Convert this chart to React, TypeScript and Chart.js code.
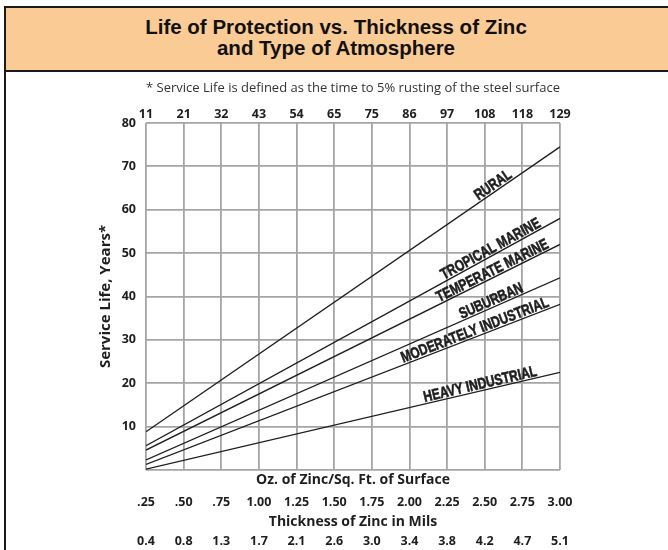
import React, { useEffect, useRef } from "react";
import { Chart, registerables } from "chart.js";

Chart.register(...registerables);

// ---- data ----
const OZ_MIN = 0.25;
const OZ_MAX = 3.0;
const OZ_STEP = 0.25;
const OZ_LABELS = [".25", ".50", ".75", "1.00", "1.25", "1.50", "1.75", "2.00", "2.25", "2.50", "2.75", "3.00"];
const GRAM_LABELS = ["11", "21", "32", "43", "54", "65", "75", "86", "97", "108", "118", "129"];
const MILS_LABELS = ["0.4", "0.8", "1.3", "1.7", "2.1", "2.6", "3.0", "3.4", "3.8", "4.2", "4.7", "5.1"];

const LINE_X = [0.25, 3.0];
const SERIES_NAMES = ["RURAL", "TROPICAL MARINE", "TEMPERATE MARINE", "SUBURBAN", "MODERATELY INDUSTRIAL", "HEAVY INDUSTRIAL"];
const RURAL = [8.8, 74.5];
const TROPICAL_MARINE = [5.6, 58.0];
const TEMPERATE_MARINE = [4.6, 52.0];
const SUBURBAN = [2.3, 44.3];
const MODERATELY_INDUSTRIAL = [1.3, 38.2];
const HEAVY_INDUSTRIAL = [0.2, 22.5];
const SERIES = [RURAL, TROPICAL_MARINE, TEMPERATE_MARINE, SUBURBAN, MODERATELY_INDUSTRIAL, HEAVY_INDUSTRIAL];
// x (oz) where each label is centred along its line
const LABEL_AT = [2.58, 2.56, 2.57, 2.56, 2.45, 2.48];

const TITLE_1 = "Life of Protection vs. Thickness of Zinc";
const TITLE_2 = "and Type of Atmosphere";
const FOOTNOTE = "* Service Life is defined as the time to 5% rusting of the steel surface";
const Y_TITLE = "Service Life, Years*";
const X_TITLE_OZ = "Oz. of Zinc/Sq. Ft. of Surface";
const X_TITLE_MILS = "Thickness of Zinc in Mils";

const GRID = "#a5a5a5";
const INK = "#1e1e1e";
const TICK_FONT = { family: "'Open Sans', sans-serif", size: 12.5, weight: "bold" as const };
const AXIS_TITLE_FONT = { family: "'Open Sans', sans-serif", size: 14, weight: "bold" as const };

const lineLabels = {
  id: "lineLabels",
  afterDatasetsDraw(chart: any) {
    const { ctx } = chart;
    const xs = chart.scales.x;
    const ys = chart.scales.y;
    chart.data.datasets.forEach((ds: any, i: number) => {
      const pts = ds.data as { x: number; y: number }[];
      const a = pts[0];
      const b = pts[pts.length - 1];
      const lx = LABEL_AT[i];
      const t = (lx - a.x) / (b.x - a.x);
      const lv = a.y + t * (b.y - a.y);
      const px = xs.getPixelForValue(lx);
      const py = ys.getPixelForValue(lv);
      const ang = Math.atan2(
        ys.getPixelForValue(b.y) - ys.getPixelForValue(a.y),
        xs.getPixelForValue(b.x) - xs.getPixelForValue(a.x)
      );
      ctx.save();
      ctx.translate(px, py);
      ctx.rotate(ang);
      ctx.scale(0.77, 1);
      ctx.font = "bold 15.5px 'Liberation Sans', Arial, sans-serif";
      ctx.textAlign = "center";
      ctx.textBaseline = "alphabetic";
      ctx.fillStyle = INK;
      ctx.strokeStyle = INK;
      ctx.lineWidth = 0.6;
      ctx.fillText(SERIES_NAMES[i], 0, -2);
      ctx.strokeText(SERIES_NAMES[i], 0, -2);
      ctx.restore();
    });
  },
};

export default function App() {
  const ref = useRef<HTMLCanvasElement | null>(null);

  useEffect(() => {
    if (!ref.current) return;
    const datasets = SERIES.map((s, i) => ({
      label: SERIES_NAMES[i],
      data: s.map((v, j) => ({ x: LINE_X[j], y: v })),
      borderColor: INK,
      borderWidth: 1.3,
      pointRadius: 0,
      fill: false,
      tension: 0,
    }));

    const chart = new Chart(ref.current, {
      type: "line",
      data: { datasets },
      plugins: [lineLabels],
      options: {
        animation: false,
        responsive: false,
        devicePixelRatio: 1,
        layout: { padding: { left: 88, right: 108, top: 0, bottom: 0 } },
        plugins: { legend: { display: false }, tooltip: { enabled: false }, title: { display: false } },
        scales: {
          x: {
            type: "linear",
            position: "bottom",
            weight: 2,
            min: OZ_MIN,
            max: OZ_MAX,
            grid: { color: GRID, lineWidth: 1.8, drawTicks: false },
            border: { display: false },
            ticks: {
              stepSize: OZ_STEP,
              autoSkip: false,
              maxRotation: 0,
              padding: 6.5,
              color: INK,
              font: TICK_FONT,
              callback: (_v: any, i: number) => OZ_LABELS[i] ?? "",
            },
            title: { display: true, text: X_TITLE_MILS, color: INK, font: AXIS_TITLE_FONT, padding: { top: 0, bottom: 0.5 } },
            afterFit: (s: any) => { s.height = 43; },
          },
          xOz: {
            type: "linear",
            position: "bottom",
            weight: 1,
            min: OZ_MIN,
            max: OZ_MAX,
            grid: { display: false, drawTicks: false },
            border: { display: false },
            ticks: { display: false },
            title: { display: true, text: X_TITLE_OZ, color: INK, font: AXIS_TITLE_FONT, padding: { top: 0, bottom: 0 } },
            afterFit: (s: any) => { s.height = 18; },
          },
          xMils: {
            type: "linear",
            position: "bottom",
            weight: 3,
            min: OZ_MIN,
            max: OZ_MAX,
            grid: { display: false, drawTicks: false },
            border: { display: false },
            ticks: {
              stepSize: OZ_STEP,
              autoSkip: false,
              maxRotation: 0,
              padding: 3,
              color: INK,
              font: TICK_FONT,
              callback: (_v: any, i: number) => MILS_LABELS[i] ?? "",
            },
            afterFit: (s: any) => { s.height = 19; },
          },
          xTop: {
            type: "linear",
            position: "top",
            min: OZ_MIN,
            max: OZ_MAX,
            grid: { display: false, drawTicks: false },
            border: { display: false },
            ticks: {
              stepSize: OZ_STEP,
              autoSkip: false,
              maxRotation: 0,
              padding: 1,
              color: INK,
              font: TICK_FONT,
              callback: (_v: any, i: number) => GRAM_LABELS[i] ?? "",
            },
            title: {
              display: true,
              text: FOOTNOTE,
              color: "#333",
              font: { family: "'Open Sans', sans-serif", size: 13, weight: "normal" as const },
              padding: { top: 8, bottom: 0 },
            },
            afterFit: (s: any) => { s.height = 51; },
          },
          y: {
            type: "linear",
            position: "left",
            min: 0,
            max: 80,
            grid: { color: GRID, lineWidth: 1.8, drawTicks: false },
            border: { display: false },
            ticks: {
              stepSize: 10,
              padding: 10,
              color: INK,
              font: TICK_FONT,
              callback: (v: any) => (v === 0 ? "" : String(v)),
            },
            title: { display: true, text: Y_TITLE, color: INK, font: { family: "'Open Sans', sans-serif", size: 15, weight: "bold" as const }, padding: { top: 3, bottom: 0 } },
            afterFit: (s: any) => { s.width = 52; },
          },
        },
      } as any,
    });
    return () => chart.destroy();
  }, []);

  return (
    <div style={{ position: "fixed", left: 0, top: 0, width: 668, height: 550, background: "#fff", overflow: "hidden" }}>
      <div style={{ position: "absolute", left: 4, top: 6, width: 2, height: 544, background: "#1a1a1a" }} />
      <div
        style={{
          position: "absolute",
          left: 4,
          top: 6,
          width: 664,
          height: 62,
          background: "#fbcb95",
          borderTop: "2px solid #1a1a1a",
          borderBottom: "2px solid #1a1a1a",
          borderLeft: "2px solid #1a1a1a",
          boxSizing: "content-box",
        }}
      />
      <div
        style={{
          position: "absolute",
          left: 4,
          top: 16,
          width: 664,
          textAlign: "center",
          fontFamily: "'Liberation Sans', Arial, sans-serif",
          fontWeight: "bold",
          fontSize: 20.5,
          lineHeight: "21px",
          color: "#111",
        }}
      >
        <div>{TITLE_1}</div>
        <div>{TITLE_2}</div>
      </div>
      <canvas ref={ref} width={662} height={478} style={{ position: "absolute", left: 6, top: 72, width: 662, height: 478 }} />
    </div>
  );
}
